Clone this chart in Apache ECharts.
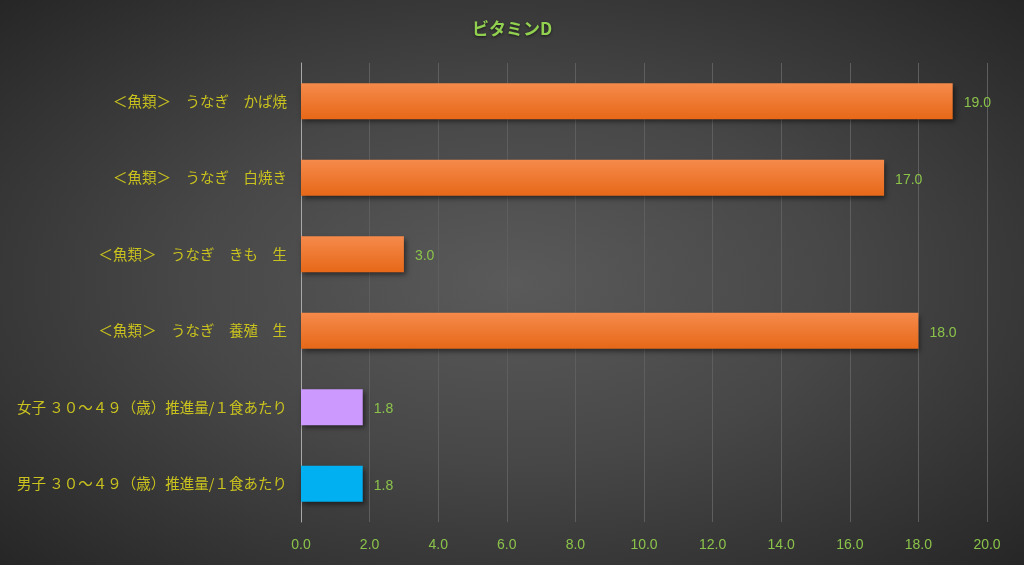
<!DOCTYPE html>
<html>
<head>
<meta charset="utf-8">
<script src="https://cdn.jsdelivr.net/npm/echarts@6/dist/echarts.min.js"></script>
<style>
  html, body { margin: 0; padding: 0; }
  #chart {
    width: 1024px; height: 565px;
    background: radial-gradient(ellipse at 50% 50%, #5a5a5a 0%, #474747 45%, #262626 100%);
  }
</style>
</head>
<body>
<div id="chart"></div>
<script>
// 上から順のカテゴリ
const categories = [
  '＜魚類＞　うなぎ　かば焼',
  '＜魚類＞　うなぎ　白焼き',
  '＜魚類＞　うなぎ　きも　生',
  '＜魚類＞　うなぎ　養殖　生',
  '女子 ３０～４９（歳）推進量/１食あたり',
  '男子 ３０～４９（歳）推進量/１食あたり'
]
const values = [19.0, 17.0, 3.0, 18.0, 1.8, 1.8]
const barColors = ['orange', 'orange', 'orange', 'orange', '#CC99FF', '#00B0F0']
const xTicks = [0, 2, 4, 6, 8, 10, 12, 14, 16, 18, 20]

const orange = new echarts.graphic.LinearGradient(0, 0, 0, 1, [
  { offset: 0, color: '#F58A4B' },
  { offset: 1, color: '#E76818' }
])

const chart = echarts.init(document.getElementById('chart'))
chart.setOption({
  backgroundColor: 'transparent',
  title: {
    text: 'ビタミンD',
    left: 'center',
    top: 15,
    textStyle: {
      color: '#92D050',
      fontSize: 17,
      fontWeight: 'bold',
      fontFamily: 'Noto Sans CJK JP',
      textShadowColor: 'rgba(0,0,0,0.6)',
      textShadowBlur: 3,
      textShadowOffsetY: 1
    }
  },
  grid: { left: 301, right: 37, top: 63, bottom: 43 },
  xAxis: {
    type: 'value',
    min: xTicks[0],
    max: xTicks[xTicks.length - 1],
    interval: 2,
    axisLine: { show: false },
    axisTick: { show: false },
    splitLine: { lineStyle: { color: '#5e5e5e', width: 1 } },
    axisLabel: {
      color: '#8BC34A',
      fontSize: 14,
      margin: 16,
      fontFamily: '"Liberation Sans Narrow", "Liberation Sans"',
      formatter: v => v.toFixed(1)
    }
  },
  yAxis: {
    type: 'category',
    inverse: true,
    data: categories,
    axisLine: { show: true, lineStyle: { color: '#a8a8a8', width: 1 } },
    axisTick: { show: false },
    axisLabel: {
      color: '#C9C21E',
      fontSize: 14.5,
      margin: 14,
      fontFamily: 'Noto Sans CJK JP'
    }
  },
  series: [{
    type: 'bar',
    barWidth: '47%',
    data: values.map((v, i) => ({
      value: v,
      itemStyle: { color: barColors[i] === 'orange' ? orange : barColors[i] }
    })),
    itemStyle: {
      shadowColor: 'rgba(0,0,0,0.5)',
      shadowBlur: 5,
      shadowOffsetX: 2,
      shadowOffsetY: 3
    },
    label: {
      show: true,
      position: 'right',
      distance: 11,
      offset: [0, 2],
      color: '#8BC34A',
      fontSize: 14,
      fontFamily: '"Liberation Sans Narrow", "Liberation Sans"',
      formatter: p => p.value.toFixed(1)
    }
  }]
})
</script>
</body>
</html>
